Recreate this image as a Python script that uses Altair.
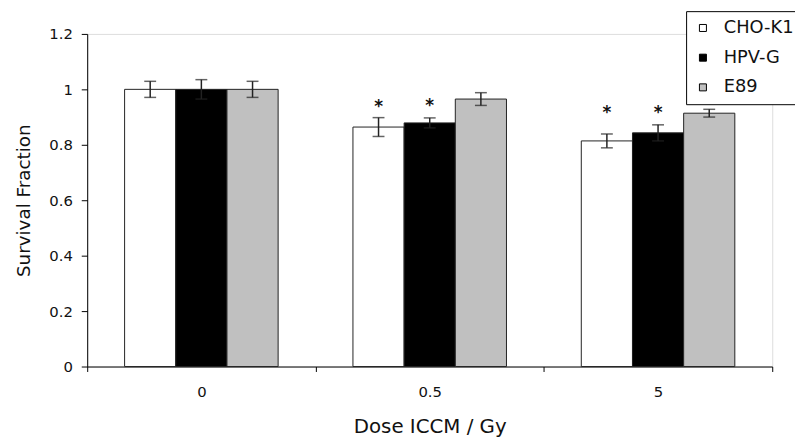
import altair as alt
import pandas as pd

doses = ["0", "0.5", "5"]
series = ["CHO-K1", "HPV-G", "E89"]
colors = ["#ffffff", "#000000", "#c0c0c0"]

cho_k1 = [1.0, 0.864, 0.814]
hpv_g = [1.0, 0.879, 0.843]
e89 = [1.0, 0.965, 0.914]

cho_k1_err = [0.029, 0.034, 0.025]
hpv_g_err = [0.035, 0.018, 0.029]
e89_err = [0.029, 0.023, 0.014]

star_dose = ["0.5", "0.5", "5", "5"]
star_series = ["CHO-K1", "HPV-G", "CHO-K1", "HPV-G"]
star_y = [0.947, 0.95, 0.925, 0.925]

rows = []
for s, vals, errs in [("CHO-K1", cho_k1, cho_k1_err), ("HPV-G", hpv_g, hpv_g_err), ("E89", e89, e89_err)]:
    for d, v, e in zip(doses, vals, errs):
        rows.append({"dose": d, "series": s, "value": v, "lo": v - e, "hi": v + e})
df = pd.DataFrame(rows)
stars = pd.DataFrame({"dose": star_dose, "series": star_series, "y": star_y, "t": ["*"] * len(star_y)})

FONT = "DejaVu Sans"

x_enc = alt.X(
    "dose:N",
    sort=doses,
    scale=alt.Scale(paddingInner=0, paddingOuter=0),
    axis=alt.Axis(
        title="Dose ICCM / Gy",
        labelAngle=0,
        tickBand="extent",
        tickSize=5,
        labelPadding=13,
        labelFont=FONT,
        labelFontSize=15,
        labelColor="#111",
        titleFont=FONT,
        titleFontSize=20,
        titleFontWeight="normal",
        titleColor="#111",
        titlePadding=18,
        domainColor="black",
        tickColor="black",
    ),
)
xo_enc = alt.XOffset("series:N", sort=series, scale=alt.Scale(paddingInner=0, paddingOuter=0.731))

y_scale = alt.Scale(domain=[0, 1.2], nice=False)
y_axis = alt.Axis(
    title="Survival Fraction",
    values=[0, 0.2, 0.4, 0.6, 0.8, 1.0, 1.2],
    format=".1~f",
    grid=False,
    tickSize=6,
    labelPadding=9,
    labelFont=FONT,
    labelFontSize=15,
    labelColor="#111",
    titleFont=FONT,
    titleFontSize=18.5,
    titleFontWeight="normal",
    titleColor="#111",
    titlePadding=15,
    domainColor="black",
    tickColor="black",
)

bars = alt.Chart(df).mark_bar(stroke="#222", strokeWidth=1).encode(
    x=x_enc,
    xOffset=xo_enc,
    y=alt.Y("value:Q", scale=y_scale, axis=y_axis),
    fill=alt.Fill(
        "series:N",
        sort=series,
        scale=alt.Scale(domain=series, range=colors),
        legend=alt.Legend(
            title=None,
            orient="none",
            legendX=605,
            legendY=-23,
            symbolType="square",
            symbolSize=50,
            symbolStrokeColor="black",
            symbolStrokeWidth=1,
            labelFont=FONT,
            labelFontSize=18,
            labelColor="#111",
            labelLimit=300,
            labelOffset=12,
            fillColor="white",
            strokeColor="black",
            padding=8,
            rowPadding=12,
        ),
    ),
)

err = alt.Chart(df).mark_rule(color="#222", strokeWidth=1.5).encode(
    x=alt.X("dose:N", sort=doses),
    xOffset=alt.XOffset("series:N", sort=series),
    y=alt.Y("lo:Q"),
    y2="hi:Q",
)
cap_hi = alt.Chart(df).mark_tick(color="#222", thickness=1.5, size=12, orient="horizontal").encode(
    x=alt.X("dose:N", sort=doses),
    xOffset=alt.XOffset("series:N", sort=series),
    y=alt.Y("hi:Q"),
)
cap_lo = alt.Chart(df).mark_tick(color="#222", thickness=1.5, size=12, orient="horizontal").encode(
    x=alt.X("dose:N", sort=doses),
    xOffset=alt.XOffset("series:N", sort=series),
    y=alt.Y("lo:Q"),
)
star_text = alt.Chart(stars).mark_text(font=FONT, fontSize=17, fontWeight="bold", color="#111", baseline="alphabetic", dy=8).encode(
    x=alt.X("dose:N", sort=doses),
    xOffset=alt.XOffset("series:N", sort=series),
    y=alt.Y("y:Q"),
    text="t:N",
)

chart = (
    alt.layer(bars, err, cap_hi, cap_lo, star_text)
    .properties(
        width=692,
        height=336,
        autosize=alt.AutoSizeParams(type="none"),
        padding={"left": 80, "top": 24, "right": 23, "bottom": 69},
    )
    .configure_view(stroke="black", strokeWidth=1)
    .configure(background="white")
)

chart.save("out.html", embed_options={"renderer": "svg", "actions": False})
